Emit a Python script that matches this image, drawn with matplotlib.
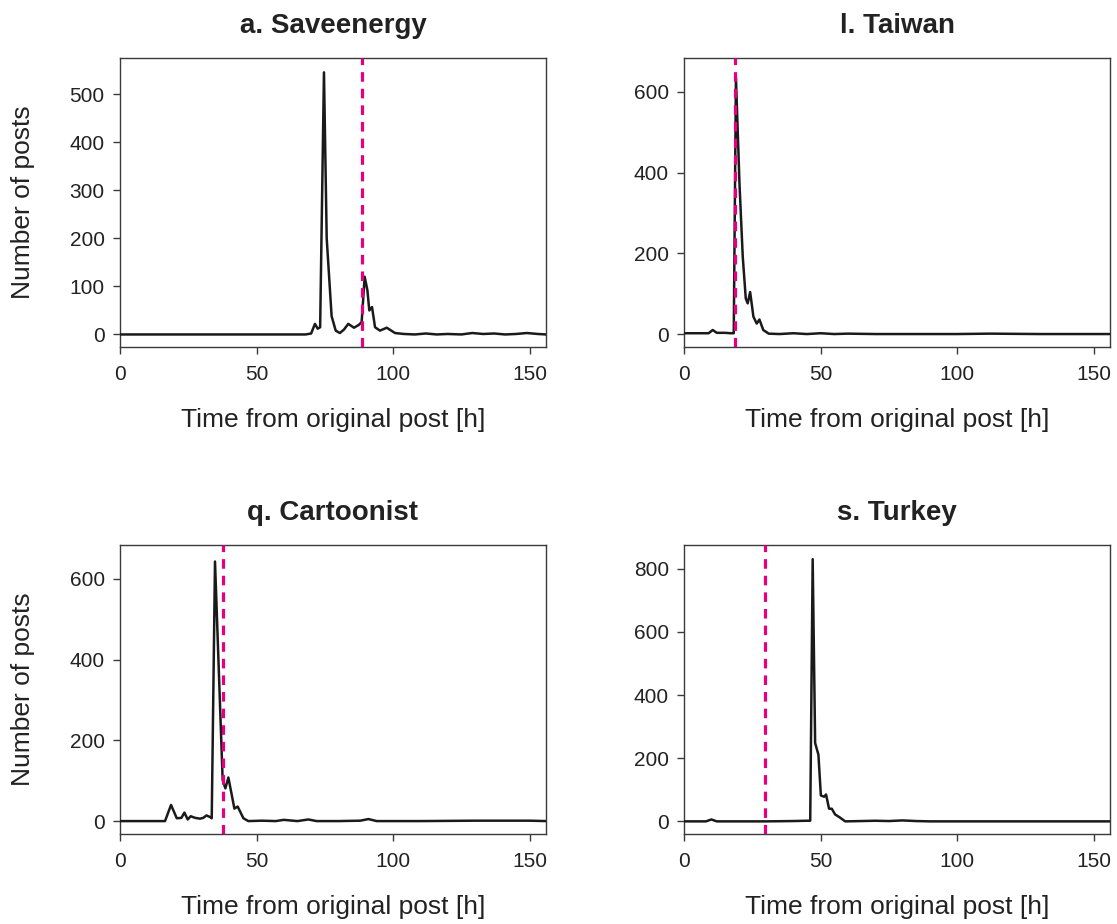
import numpy as np
import matplotlib.pyplot as plt

plt.rcParams['font.family'] = ['Liberation Sans', 'DejaVu Sans']

# ---- data (time in hours, number of posts) ----
a_time = [0, 68, 70, 71.4, 72.4, 73.3, 74.7, 75.7, 77.5, 79, 80.5, 82, 83.6, 85.7,
          87.5, 88.5, 89.6, 90.6, 91.3, 92.3, 93.4, 95.2, 97.7, 100.7, 104, 108,
          112, 116, 120, 125, 129, 133, 137, 141, 145, 149, 153, 156]
a_posts = [0, 0, 2, 22, 12, 15, 545, 200, 38, 8, 3, 10, 22, 14,
           20, 26, 120, 92, 50, 57, 15, 8, 14, 3, 1, 0,
           2, 0, 1, 0, 3, 1, 2, 0, 1, 3, 1, 0]
a_event = 88.5

b_time = [0, 9, 10.5, 12, 15, 17, 18.2, 19, 20.3, 21.5, 22.6, 23.3, 24.2, 25.4,
          26.6, 27.6, 29, 31, 35, 40, 45, 50, 55, 60, 70, 80, 100, 112, 130, 156]
b_posts = [2, 2, 10, 3, 3, 2, 2, 635, 372, 191, 88, 76, 104, 43,
           26, 36, 10, 1, 0, 2, 0, 2, 0, 1, 0, 0, 0, 1, 0, 0]
b_event = 18.6

c_time = [0, 16.5, 18.7, 20.8, 22.5, 23.6, 24.8, 25.9, 27.5, 29.3, 30.5, 31.7, 33,
          33.6, 34.8, 37.6, 38.6, 39.7, 41.9, 43.1, 45.2, 47, 52, 57, 60, 65, 69,
          72, 80, 88, 91, 94, 110, 130, 150, 156]
c_posts = [0, 0, 40, 7, 8, 21, 4, 12, 8, 6, 8, 14, 10,
           7, 643, 102, 81, 108, 31, 36, 7, 0, 1, 0, 3, 0, 4,
           0, 0, 1, 5, 0, 0, 1, 1, 0]
c_event = 37.8

d_time = [0, 8, 10, 12, 20, 30, 40, 45, 46.2, 47.1, 48, 49.2, 50.1, 51.3, 52,
          53.1, 54.1, 55.3, 57.1, 59, 65, 70, 75, 80, 85, 90, 120, 156]
d_posts = [0, 0, 6, 0, 0, 0, 1, 2, 2, 830, 248, 211, 82, 78, 85,
           40, 40, 22, 12, 0, 1, 2, 1, 3, 1, 0, 0, 0]
d_event = 29.6

titles = ['a. Saveenergy', 'l. Taiwan', 'q. Cartoonist', 's. Turkey']
yticks = [[0, 100, 200, 300, 400, 500], [0, 200, 400, 600],
          [0, 200, 400, 600], [0, 200, 400, 600, 800]]
ylims = [(-26, 575), (-32, 684), (-32, 684), (-40, 875)]
xticks = [0, 50, 100, 150]

panels = [(a_time, a_posts, a_event), (b_time, b_posts, b_event),
          (c_time, c_posts, c_event), (d_time, d_posts, d_event)]

# axes boxes in figure fraction
boxes = [[0.1074, 0.6245, 0.3814, 0.3128], [0.6124, 0.6245, 0.3814, 0.3128],
         [0.1074, 0.0974, 0.3814, 0.3128], [0.6124, 0.0974, 0.3814, 0.3128]]

fig = plt.figure(figsize=(11.17, 9.24), dpi=100)
frame_col = '#3a3a3a'
text_col = '#222222'

for i, (t, n, ev) in enumerate(panels):
    ax = fig.add_axes(boxes[i])
    ax.plot(t, n, color='#1a1a1a', lw=1.8, zorder=3)
    ax.axvline(ev, color='#e6007e', lw=2.3, ls=(0, (3, 2.2)), zorder=4)
    ax.set_xlim(0, 156)
    ax.set_ylim(*ylims[i])
    ax.set_xticks(xticks)
    ax.set_yticks(yticks[i])
    ax.tick_params(direction='out', length=5, width=1, color=frame_col,
                   labelsize=15, labelcolor=text_col)
    ax.tick_params(axis='y', pad=6)
    ax.tick_params(axis='x', pad=8)
    for sp in ax.spines.values():
        sp.set_color(frame_col)
        sp.set_linewidth(1.0)
    ax.set_title(titles[i], fontsize=20, fontweight='bold', color=text_col, pad=18)
    ax.set_xlabel('Time from original post [h]', fontsize=19, color=text_col)
    ax.xaxis.set_label_coords(0.5, -0.211)
    if i % 2 == 0:
        ax.set_ylabel('Number of posts', fontsize=19, color=text_col)
        ax.yaxis.set_label_coords(-0.2, 0.5)

fig.savefig('out.png', dpi=100)
